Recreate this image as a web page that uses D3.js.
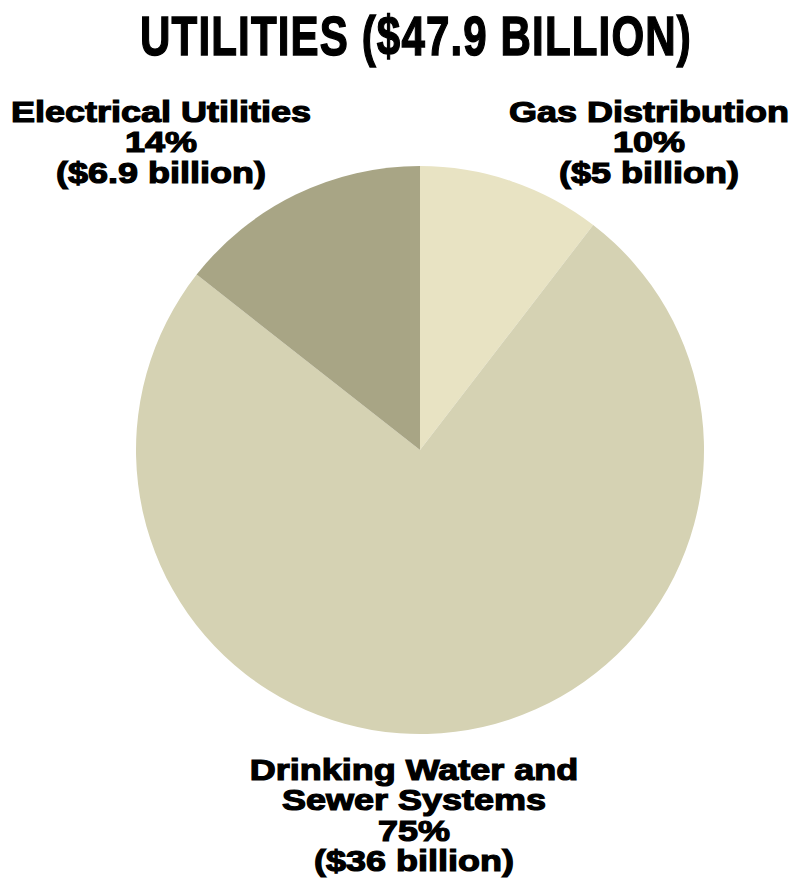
<!DOCTYPE html>
<html>
<head>
<meta charset="utf-8">
<script src="https://cdn.jsdelivr.net/npm/d3@7"></script>
<style>
  html, body { margin: 0; padding: 0; background: #ffffff; }
  svg { display: block; }
</style>
</head>
<body>
<script>
// Utilities spending breakdown, in billions of dollars (clockwise from 12 o'clock)
const categories = ["Gas Distribution", "Drinking Water and Sewer Systems", "Electrical Utilities"];
const labelLines = [["Gas Distribution"], ["Drinking Water and", "Sewer Systems"], ["Electrical Utilities"]];
const values = [5, 36, 6.9];
const sliceColors = ["#e8e3c3", "#d5d2b3", "#a8a585"];

// Label block anchors: centre x and first baseline y
const labelAnchors = [[649, 122], [414, 780], [161, 122]];

const width = 790, height = 882;
const cx = 420, cy = 450, radius = 284;

const svg = d3.select("body").append("svg")
  .attr("width", width)
  .attr("height", height);

const total = d3.sum(values);
const pct = d3.format(".0%");

// Title, stretched to span its full width
const title = svg.append("text")
  .attr("x", 0).attr("y", 0)
  .attr("text-anchor", "middle")
  .style("font-family", "'Liberation Sans Narrow', 'Liberation Sans', Arial, sans-serif")
  .style("font-weight", "bold")
  .style("font-size", "56px")
  .style("letter-spacing", "1.5px")
  .style("fill", "#000")
  .style("stroke", "#000")
  .style("stroke-width", "1.4px")
  .text(`UTILITIES ($${d3.format(".1f")(total)} BILLION)`);
const titleW = title.node().getComputedTextLength();
title.attr("transform", `translate(416,55) scale(${552 / titleW},1)`);

// Pie
const color = d3.scaleOrdinal().domain(categories).range(sliceColors);
const pie = d3.pie().sort(null).value(d => d.value).startAngle(0).endAngle(2 * Math.PI);
const arc = d3.arc().innerRadius(0).outerRadius(radius);

const data = categories.map((c, i) => ({ name: c, value: values[i], lines: labelLines[i], anchor: labelAnchors[i] }));

svg.append("g")
  .attr("transform", `translate(${cx},${cy})`)
  .selectAll("path")
  .data(pie(data))
  .join("path")
  .attr("d", arc)
  .attr("fill", d => color(d.data.name));

// Labels
const lineGap = 30.5;
const labelScale = 1.2;
const labels = svg.append("g").selectAll("g")
  .data(data)
  .join("g")
  .attr("transform", d => `translate(${d.anchor[0]},${d.anchor[1]}) scale(${labelScale},1)`);

labels.append("text")
  .attr("text-anchor", "middle")
  .style("font-family", "'Liberation Sans', Arial, sans-serif")
  .style("font-weight", "bold")
  .style("font-size", "30px")
  .style("fill", "#000")
  .style("stroke", "#000")
  .style("stroke-width", "1.2px")
  .selectAll("tspan")
  .data(d => [...d.lines, pct(d.value / total), `($${d.value} billion)`])
  .join("tspan")
  .attr("x", 0)
  .attr("y", (d, i) => i * lineGap)
  .text(d => d);
</script>
</body>
</html>
